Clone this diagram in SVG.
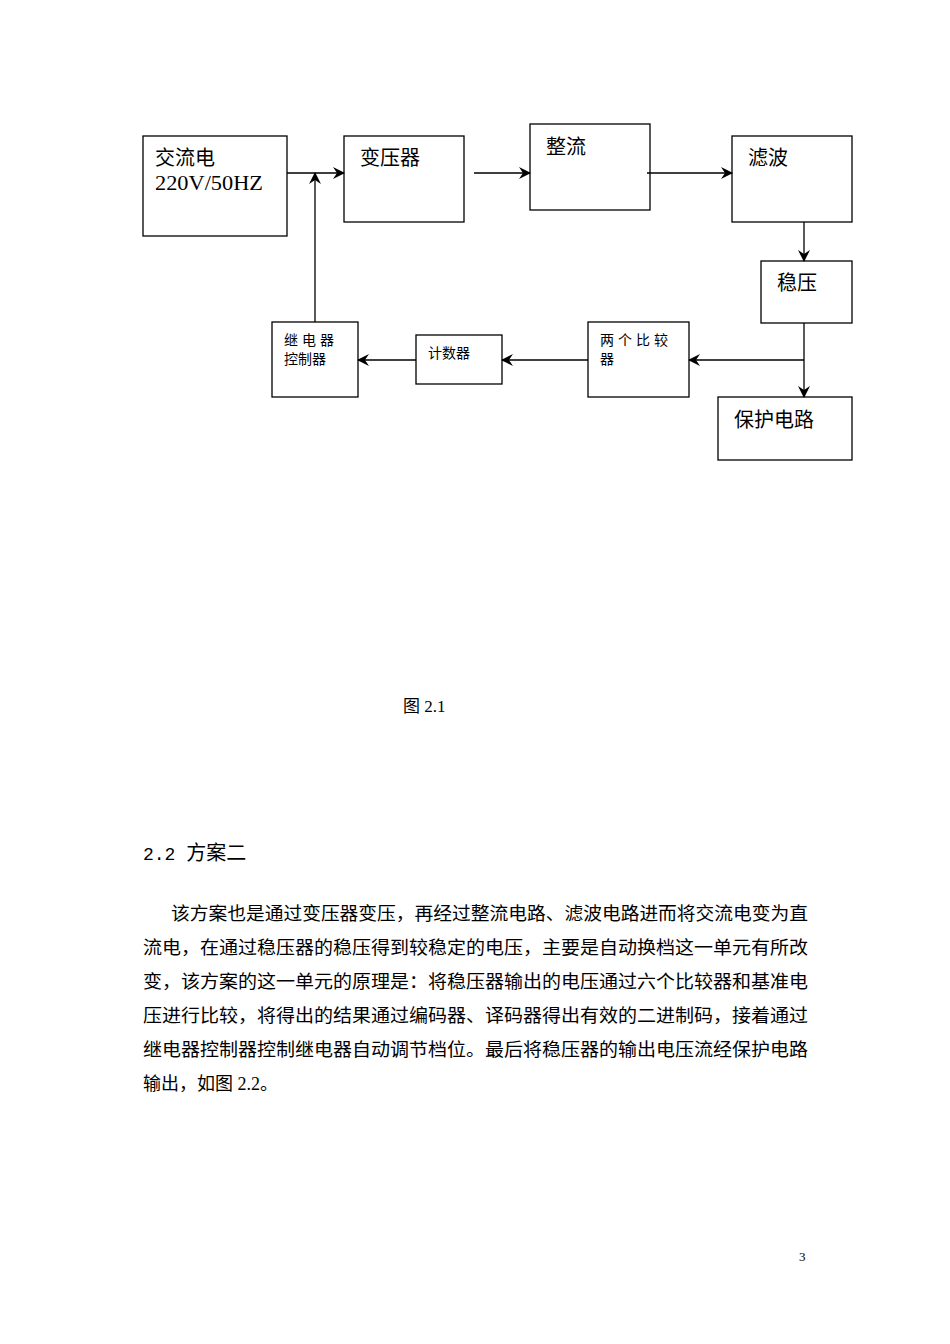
<svg xmlns="http://www.w3.org/2000/svg" width="950" height="1344" viewBox="0 0 950 1344">
<style>
rect{fill:#fff;stroke:#000;stroke-width:1.3}
.c line{stroke:#000;stroke-width:1.3}
text{font-family:"Liberation Serif","Noto Sans CJK SC",serif;fill:#000}
.b{font-size:20px}
.s{font-size:14px;letter-spacing:4px}
.p{font-size:18px}
</style>
<defs><marker id="a" viewBox="0 0 12 12" refX="11" refY="6" markerWidth="12" markerHeight="12" markerUnits="userSpaceOnUse" orient="auto"><path d="M0,0 L12,6 L0,12 L4,6 Z" fill="#000"/></marker></defs>
<rect width="950" height="1344" style="stroke:none"/>
<g id="n1"><rect x="143" y="136" width="144" height="100"/><text class="b" x="155" y="165">交流电</text><text class="b" x="155" y="190" textLength="108" lengthAdjust="spacingAndGlyphs">220V/50HZ</text></g>
<g id="n2"><rect x="344" y="136" width="120" height="86"/><text class="b" x="360" y="165">变压器</text></g>
<g id="n3"><rect x="530" y="124" width="120" height="86"/><text class="b" x="546" y="154">整流</text></g>
<g id="n4"><rect x="732" y="136" width="120" height="86"/><text class="b" x="748" y="165">滤波</text></g>
<g id="n5"><rect x="761" y="261" width="91" height="62"/><text class="b" x="777" y="290">稳压</text></g>
<g id="n6"><rect x="718" y="397" width="134" height="63"/><text class="b" x="734" y="427">保护电路</text></g>
<g id="n7"><rect x="588" y="322" width="101" height="75"/><text class="s" x="600" y="345">两个比较</text><text class="s" x="600" y="364">器</text></g>
<g id="n8"><rect x="416" y="335" width="86" height="49"/><text class="s" x="428" y="358" style="letter-spacing:0">计数器</text></g>
<g id="n9"><rect x="272" y="322" width="86" height="75"/><text class="s" x="284" y="345">继电器</text><text class="s" x="284" y="364" style="letter-spacing:0">控制器</text></g>
<g class="c" id="connectors">
<line x1="287" y1="173" x2="344" y2="173" marker-end="url(#a)"/>
<line x1="474" y1="173" x2="530" y2="173" marker-end="url(#a)"/>
<line x1="647" y1="173" x2="732" y2="173" marker-end="url(#a)"/>
<line x1="315" y1="322" x2="315" y2="173" marker-end="url(#a)"/>
<line x1="804" y1="222" x2="804" y2="261" marker-end="url(#a)"/>
<line x1="804" y1="323" x2="804" y2="397" marker-end="url(#a)"/>
<line x1="804" y1="360" x2="689" y2="360" marker-end="url(#a)"/>
<line x1="588" y1="360" x2="502" y2="360" marker-end="url(#a)"/>
<line x1="416" y1="360" x2="358" y2="360" marker-end="url(#a)"/>
</g>
<text class="p" x="403" y="712" style="font-size:17px">图 2.1</text>
<text class="p" x="143" y="860" style="font-size:20px"><tspan style="font-family:'Liberation Mono',monospace;font-size:18px">2.2 </tspan>方案二</text>
<text class="p" x="171" y="920" textLength="637" lengthAdjust="spacingAndGlyphs">该方案也是通过变压器变压，再经过整流电路、滤波电路进而将交流电变为直</text>
<text class="p" x="143" y="954" textLength="665" lengthAdjust="spacingAndGlyphs">流电，在通过稳压器的稳压得到较稳定的电压，主要是自动换档这一单元有所改</text>
<text class="p" x="143" y="988" textLength="665" lengthAdjust="spacingAndGlyphs">变，该方案的这一单元的原理是：将稳压器输出的电压通过六个比较器和基准电</text>
<text class="p" x="143" y="1022" textLength="665" lengthAdjust="spacingAndGlyphs">压进行比较，将得出的结果通过编码器、译码器得出有效的二进制码，接着通过</text>
<text class="p" x="143" y="1056" textLength="665" lengthAdjust="spacingAndGlyphs">继电器控制器控制继电器自动调节档位。最后将稳压器的输出电压流经保护电路</text>
<text class="p" x="143" y="1090">输出，如图 2.2。</text>
<text x="799" y="1261" style="font-size:13px">3</text>
</svg>
